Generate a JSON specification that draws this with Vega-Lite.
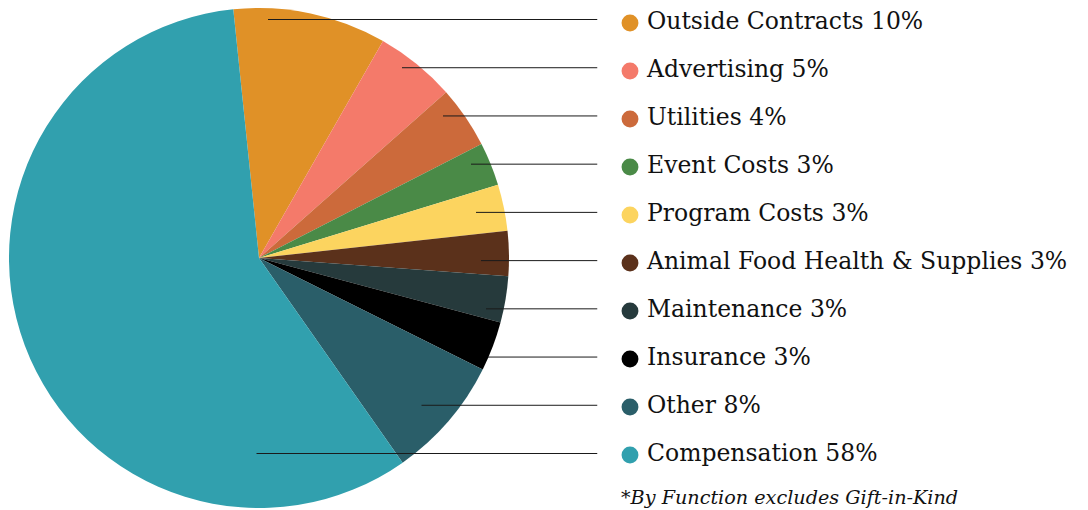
{
  "$schema": "https://vega.github.io/schema/vega-lite/v6.json",
  "width": 1088,
  "height": 510,
  "autosize": "none",
  "padding": 0,
  "background": "white",
  "config": {"view": {"stroke": null}},
  "data": {
    "values": [
      {"category": "Outside Contracts", "label": "Outside Contracts 10%", "share": 9.9, "leader": 0.036},
      {"category": "Advertising", "label": "Advertising 5%", "share": 5.2, "leader": 0.572},
      {"category": "Utilities", "label": "Utilities 4%", "share": 4.0, "leader": 0.736},
      {"category": "Event Costs", "label": "Event Costs 3%", "share": 2.8, "leader": 0.848},
      {"category": "Program Costs", "label": "Program Costs 3%", "share": 3.0, "leader": 0.868},
      {"category": "Animal Food Health & Supplies", "label": "Animal Food Health & Supplies 3%", "share": 2.9, "leader": 0.888},
      {"category": "Maintenance", "label": "Maintenance 3%", "share": 3.0, "leader": 0.908},
      {"category": "Insurance", "label": "Insurance 3%", "share": 3.2, "leader": 0.916},
      {"category": "Other", "label": "Other 8%", "share": 7.9, "leader": 0.65},
      {"category": "Compensation", "label": "Compensation 58%", "share": 58.1, "leader": -0.01}
    ]
  },
  "layer": [
    {
      "transform": [{"window": [{"op": "row_number", "as": "rank"}]}],
      "mark": {"type": "arc", "radius": 250},
      "encoding": {
        "theta": {"field": "share", "type": "quantitative", "stack": true, "scale": {"range": [-0.103, 6.1802]}},
        "order": {"field": "rank", "type": "quantitative"},
        "color": {
          "field": "category", "type": "nominal", "legend": null,
          "scale": {
            "domain": ["Outside Contracts", "Advertising", "Utilities", "Event Costs", "Program Costs", "Animal Food Health & Supplies", "Maintenance", "Insurance", "Other", "Compensation"],
            "range": ["#E09127", "#F47A6A", "#CC6A3B", "#4A8A47", "#FCD45F", "#5B311B", "#263A3C", "#000000", "#2A5E69", "#31A0AE"]
          }
        },
        "x": {"datum": 0, "type": "quantitative", "scale": {"domain": [-1.036, 3.316], "nice": false, "zero": false}, "axis": null},
        "y": {"datum": 0, "type": "quantitative", "scale": {"domain": [-1.008, 1.032], "nice": false, "zero": false}, "axis": null}
      }
    },
    {
      "mark": {"type": "rule", "color": "#1a1a1a", "strokeWidth": 1},
      "encoding": {
        "x": {"field": "leader", "type": "quantitative", "scale": {"domain": [-1.036, 3.316], "nice": false, "zero": false}, "axis": null},
        "x2": {"datum": 1.353},
        "y": {"field": "category", "type": "nominal", "axis": null,
          "scale": {"type": "point", "padding": 0, "domain": ["Outside Contracts", "Advertising", "Utilities", "Event Costs", "Program Costs", "Animal Food Health & Supplies", "Maintenance", "Insurance", "Other", "Compensation"], "range": [19.5, 453.5]}}
      }
    },
    {
      "mark": {"type": "circle", "size": 284, "opacity": 1},
      "encoding": {
        "x": {"datum": 1.484, "type": "quantitative", "scale": {"domain": [-1.036, 3.316], "nice": false, "zero": false}, "axis": null},
        "y": {"field": "category", "type": "nominal", "axis": null,
          "scale": {"type": "point", "padding": 0, "domain": ["Outside Contracts", "Advertising", "Utilities", "Event Costs", "Program Costs", "Animal Food Health & Supplies", "Maintenance", "Insurance", "Other", "Compensation"], "range": [23, 455]}},
        "color": {"field": "category", "type": "nominal", "legend": null}
      }
    },
    {
      "mark": {"type": "text", "align": "left", "baseline": "middle", "font": "DejaVu Serif", "fontSize": 23.5, "color": "#111111"},
      "encoding": {
        "x": {"datum": 1.552, "type": "quantitative", "scale": {"domain": [-1.036, 3.316], "nice": false, "zero": false}, "axis": null},
        "y": {"field": "category", "type": "nominal", "axis": null,
          "scale": {"type": "point", "padding": 0, "domain": ["Outside Contracts", "Advertising", "Utilities", "Event Costs", "Program Costs", "Animal Food Health & Supplies", "Maintenance", "Insurance", "Other", "Compensation"], "range": [22, 454]}},
        "text": {"field": "label"}
      }
    },
    {
      "data": {"values": [{"note": "*By Function excludes Gift-in-Kind"}]},
      "mark": {"type": "text", "align": "left", "baseline": "alphabetic", "font": "DejaVu Serif", "fontStyle": "italic", "fontSize": 19.2, "color": "#111111"},
      "encoding": {
        "x": {"datum": 1.448, "type": "quantitative", "scale": {"domain": [-1.036, 3.316], "nice": false, "zero": false}, "axis": null},
        "y": {"datum": -0.984, "type": "quantitative", "scale": {"domain": [-1.008, 1.032], "nice": false, "zero": false}, "axis": null},
        "text": {"field": "note"}
      }
    }
  ],
  "resolve": {"scale": {"y": "independent"}}
}
